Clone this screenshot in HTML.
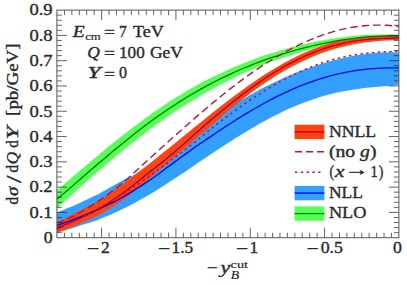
<!DOCTYPE html>
<html><head><meta charset="utf-8"><title>plot</title>
<style>html,body{margin:0;padding:0;background:#fff;}body{width:407px;height:285px;overflow:hidden;position:relative;}</style>
</head><body>
<svg width="407" height="285" viewBox="0 0 407 285" style="display:block;position:absolute;left:0;top:0" font-family="'Liberation Serif', serif" font-weight="normal">
<style>text{fill:#2b2b2b;stroke:#2b2b2b;stroke-width:0.38px;stroke-linejoin:round}text.s{stroke-width:0.2px}</style>
<rect x="0" y="0" width="407" height="285" fill="#ffffff"/>
<defs><clipPath id="c"><rect x="56.9" y="10.1" width="342.0" height="227.6"/></clipPath></defs>
<g clip-path="url(#c)">
<path d="M56.9,212.4 L62.7,210.2 L68.5,207.8 L74.3,205.4 L80.1,202.8 L85.9,200.1 L91.7,197.3 L97.5,194.4 L103.3,191.3 L109.1,188.1 L114.9,184.8 L120.7,181.5 L126.5,178.4 L132.3,175.8 L138.1,172.8 L143.8,168.9 L149.6,164.8 L155.4,160.5 L161.2,156.2 L167.0,151.7 L172.8,147.1 L178.6,142.4 L184.4,137.9 L190.2,133.6 L196.0,129.5 L201.8,125.5 L207.6,121.5 L213.4,117.6 L219.2,113.7 L225.0,110.0 L230.8,106.3 L236.6,102.7 L242.4,99.3 L248.2,95.9 L254.0,92.7 L259.8,89.6 L265.6,86.5 L271.4,83.7 L277.2,80.9 L283.0,78.3 L288.8,75.7 L294.6,73.3 L300.4,71.1 L306.2,68.9 L312.0,66.9 L317.7,65.0 L323.5,63.2 L329.3,61.5 L335.1,60.0 L340.9,58.6 L346.7,57.3 L352.5,56.1 L358.3,55.1 L364.1,54.2 L369.9,53.4 L375.7,52.9 L381.5,52.5 L387.3,52.2 L393.1,52.2 L398.9,52.4 L398.9,85.0 L393.1,85.5 L387.3,85.9 L381.5,86.4 L375.7,86.9 L369.9,87.5 L364.1,88.1 L358.3,88.9 L352.5,89.7 L346.7,90.7 L340.9,91.8 L335.1,93.1 L329.3,94.5 L323.5,96.0 L317.7,97.8 L312.0,99.7 L306.2,101.7 L300.4,103.9 L294.6,106.3 L288.8,108.8 L283.0,111.5 L277.2,114.4 L271.4,117.3 L265.6,120.4 L259.8,123.6 L254.0,127.0 L248.2,130.4 L242.4,133.9 L236.6,137.5 L230.8,141.2 L225.0,144.9 L219.2,148.7 L213.4,152.5 L207.6,156.4 L201.8,160.3 L196.0,164.3 L190.2,168.2 L184.4,172.2 L178.6,176.0 L172.8,179.8 L167.0,183.6 L161.2,187.3 L155.4,191.0 L149.6,194.5 L143.8,197.8 L138.1,201.1 L132.3,204.2 L126.5,207.2 L120.7,210.0 L114.9,212.7 L109.1,215.2 L103.3,217.6 L97.5,219.9 L91.7,221.9 L85.9,223.8 L80.1,225.6 L74.3,227.4 L68.5,229.2 L62.7,231.0 L56.9,232.7Z" fill="#33a0ff"/>
<path d="M56.9,190.3 L62.7,185.4 L68.5,180.4 L74.3,175.5 L80.1,170.6 L85.9,165.7 L91.7,160.8 L97.5,155.9 L103.3,151.1 L109.1,146.3 L114.9,141.6 L120.7,137.1 L126.5,132.5 L132.3,128.1 L138.1,123.7 L143.8,119.4 L149.6,115.2 L155.4,111.1 L161.2,107.2 L167.0,103.3 L172.8,99.6 L178.6,95.9 L184.4,92.4 L190.2,89.0 L196.0,85.8 L201.8,82.6 L207.6,79.6 L213.4,76.7 L219.2,73.9 L225.0,71.2 L230.8,68.6 L236.6,66.1 L242.4,63.7 L248.2,61.4 L254.0,59.2 L259.8,57.1 L265.6,55.1 L271.4,53.2 L277.2,51.4 L283.0,49.7 L288.8,48.1 L294.6,46.5 L300.4,45.1 L306.2,43.7 L312.0,42.5 L317.7,41.3 L323.5,40.2 L329.3,39.2 L335.1,38.3 L340.9,37.5 L346.7,36.7 L352.5,36.1 L358.3,35.6 L364.1,35.1 L369.9,34.8 L375.7,34.6 L381.5,34.4 L387.3,34.4 L393.1,34.5 L398.9,34.8 L398.9,38.0 L393.1,38.0 L387.3,38.1 L381.5,38.4 L375.7,38.7 L369.9,39.2 L364.1,39.7 L358.3,40.4 L352.5,41.1 L346.7,42.0 L340.9,42.9 L335.1,43.9 L329.3,45.1 L323.5,46.3 L317.7,47.6 L312.0,49.1 L306.2,50.6 L300.4,52.2 L294.6,53.9 L288.8,55.7 L283.0,57.7 L277.2,59.7 L271.4,61.8 L265.6,64.0 L259.8,66.3 L254.0,68.7 L248.2,71.2 L242.4,73.8 L236.6,76.5 L230.8,79.3 L225.0,82.2 L219.2,85.3 L213.4,88.4 L207.6,91.6 L201.8,95.0 L196.0,98.4 L190.2,101.9 L184.4,105.6 L178.6,109.3 L172.8,113.2 L167.0,117.1 L161.2,121.2 L155.4,125.3 L149.6,129.6 L143.8,133.9 L138.1,138.4 L132.3,142.9 L126.5,147.5 L120.7,152.3 L114.9,157.0 L109.1,161.9 L103.3,166.9 L97.5,171.9 L91.7,177.0 L85.9,182.1 L80.1,187.4 L74.3,192.6 L68.5,197.9 L62.7,203.3 L56.9,208.7Z" fill="#55ff55"/>
<path d="M56.9,222.3 L62.7,219.4 L68.5,216.4 L74.3,213.4 L80.1,210.4 L85.9,207.4 L91.7,204.6 L97.5,201.6 L103.3,197.9 L109.1,194.0 L114.9,189.9 L120.7,185.7 L126.5,181.4 L132.3,177.0 L138.1,172.4 L143.8,167.9 L149.6,163.4 L155.4,158.9 L161.2,154.3 L167.0,149.6 L172.8,145.0 L178.6,140.3 L184.4,135.6 L190.2,130.8 L196.0,126.1 L201.8,121.4 L207.6,116.8 L213.4,112.1 L219.2,107.5 L225.0,103.0 L230.8,98.6 L236.6,94.2 L242.4,89.9 L248.2,85.8 L254.0,81.7 L259.8,77.8 L265.6,74.0 L271.4,70.4 L277.2,66.9 L283.0,63.6 L288.8,60.4 L294.6,57.4 L300.4,54.6 L306.2,52.0 L312.0,49.6 L317.7,47.4 L323.5,45.3 L329.3,43.5 L335.1,41.8 L340.9,40.4 L346.7,39.5 L352.5,38.9 L358.3,38.1 L364.1,37.3 L369.9,36.7 L375.7,36.1 L381.5,35.7 L387.3,35.4 L393.1,35.2 L398.9,34.9 L398.9,40.1 L393.1,40.2 L387.3,40.5 L381.5,40.8 L375.7,41.3 L369.9,41.9 L364.1,42.6 L358.3,43.5 L352.5,44.5 L346.7,45.8 L340.9,47.2 L335.1,48.7 L329.3,50.5 L323.5,52.5 L317.7,54.6 L312.0,57.0 L306.2,59.5 L300.4,62.3 L294.6,65.2 L288.8,68.3 L283.0,71.6 L277.2,75.0 L271.4,78.7 L265.6,82.5 L259.8,86.4 L254.0,90.6 L248.2,94.9 L242.4,99.3 L236.6,103.9 L230.8,108.7 L225.0,113.6 L219.2,118.6 L213.4,123.7 L207.6,128.7 L201.8,133.6 L196.0,138.6 L190.2,143.5 L184.4,148.5 L178.6,153.5 L172.8,158.4 L167.0,163.4 L161.2,168.3 L155.4,173.3 L149.6,178.2 L143.8,183.2 L138.1,188.0 L132.3,192.7 L126.5,197.2 L120.7,201.5 L114.9,205.4 L109.1,209.0 L103.3,212.4 L97.5,215.6 L91.7,218.5 L85.9,221.1 L80.1,223.7 L74.3,226.2 L68.5,228.5 L62.7,230.7 L56.9,232.6Z" fill="#ff4210"/>
<path d="M56.9,199.2 L62.7,194.3 L68.5,189.4 L74.3,184.4 L80.1,179.3 L85.9,174.3 L91.7,169.3 L97.5,164.3 L103.3,159.4 L109.1,154.5 L114.9,149.6 L120.7,144.9 L126.5,140.2 L132.3,135.6 L138.1,131.1 L143.8,126.6 L149.6,122.3 L155.4,118.1 L161.2,114.0 L167.0,110.0 L172.8,106.2 L178.6,102.4 L184.4,98.8 L190.2,95.2 L196.0,91.8 L201.8,88.6 L207.6,85.4 L213.4,82.3 L219.2,79.4 L225.0,76.6 L230.8,73.9 L236.6,71.2 L242.4,68.7 L248.2,66.3 L254.0,64.0 L259.8,61.8 L265.6,59.7 L271.4,57.7 L277.2,55.8 L283.0,53.9 L288.8,52.2 L294.6,50.5 L300.4,48.9 L306.2,47.4 L312.0,46.0 L317.7,44.7 L323.5,43.4 L329.3,42.3 L335.1,41.2 L340.9,40.2 L346.7,39.3 L352.5,38.5 L358.3,37.8 L364.1,37.2 L369.9,36.7 L375.7,36.4 L381.5,36.1 L387.3,36.0 L393.1,36.1 L398.9,36.3" fill="none" stroke="#007800" stroke-width="1.25"/>
<path d="M151.7,169.5 L154.6,167.2 L157.5,164.9 L160.4,162.6 L163.2,160.3 L166.1,157.9 L169.0,155.6 L171.9,153.2 L174.7,150.8 L177.6,148.4 L180.5,146.0 L183.4,143.5 L186.2,140.9 L189.1,138.3 L192.0,135.7 L194.8,133.1 L197.7,130.5 L200.6,127.9 L203.5,125.3 L206.3,122.8 L209.2,120.3 L212.1,117.9 L215.0,115.5 L217.8,113.1 L220.7,110.7 L223.6,108.4 L226.5,106.1 L229.3,103.8 L232.2,101.5 L235.1,99.2 L238.0,97.0" fill="none" stroke="#4b8fe6" stroke-width="0.6"/>
<path d="M56.9,225.3 L62.7,223.4 L68.5,221.4 L74.3,219.2 L80.1,216.9 L85.9,214.5 L91.7,212.1 L97.5,209.6 L103.3,206.9 L109.1,204.2 L114.9,201.4 L120.7,198.3 L126.5,194.9 L132.3,191.4 L138.1,187.8 L143.8,184.1 L149.6,180.3 L155.4,176.2 L161.2,171.9 L167.0,167.6 L172.8,163.4 L178.6,159.1 L184.4,154.9 L190.2,150.7 L196.0,146.5 L201.8,142.5 L207.6,138.6 L213.4,134.7 L219.2,130.8 L225.0,127.0 L230.8,123.2 L236.6,119.5 L242.4,115.9 L248.2,112.4 L254.0,109.0 L259.8,105.7 L265.6,102.5 L271.4,99.4 L277.2,96.4 L283.0,93.6 L288.8,90.9 L294.6,88.3 L300.4,85.9 L306.2,83.7 L312.0,81.6 L317.7,79.6 L323.5,77.8 L329.3,76.1 L335.1,74.6 L340.9,73.3 L346.7,72.1 L352.5,71.1 L358.3,70.2 L364.1,69.5 L369.9,68.9 L375.7,68.4 L381.5,68.1 L387.3,67.9 L393.1,67.8 L398.9,67.9" fill="none" stroke="#0000ee" stroke-width="1.3"/>
<path d="M56.9,227.9 L62.7,225.7 L68.5,223.3 L74.3,220.7 L80.1,218.1 L85.9,215.5 L91.7,212.7 L97.5,209.7 L103.3,206.2 L109.1,202.5 L114.9,198.6 L120.7,194.6 L126.5,190.4 L132.3,185.9 L138.1,181.3 L143.8,176.7 L149.6,172.1 L155.4,167.5 L161.2,162.9 L167.0,158.2 L172.8,153.4 L178.6,148.5 L184.4,143.5 L190.2,138.3 L196.0,133.0 L201.8,127.8 L207.6,122.7 L213.4,117.8 L219.2,113.0 L225.0,108.3 L230.8,103.6 L236.6,99.0 L242.4,94.6 L248.2,90.3 L254.0,86.1 L259.8,82.0 L265.6,78.1 L271.4,74.3 L277.2,70.7 L283.0,67.3 L288.8,64.1 L294.6,61.1 L300.4,58.2 L306.2,55.5 L312.0,53.1 L317.7,50.8 L323.5,48.8 L329.3,46.9 L335.1,45.3 L340.9,43.8 L346.7,42.5 L352.5,41.4 L358.3,40.5 L364.1,39.8 L369.9,39.2 L375.7,38.8 L381.5,38.5 L387.3,38.3 L393.1,38.2 L398.9,38.2" fill="none" stroke="#a8002a" stroke-width="1.25"/>
<path d="M56.9,223.2 L62.7,221.0 L68.5,218.4 L74.3,215.6 L80.1,212.5 L85.9,209.1 L91.7,205.6 L97.5,201.8 L103.3,197.8 L109.1,193.5 L114.9,189.1 L120.7,184.4 L126.5,179.5 L132.3,174.4 L138.1,169.1 L143.8,163.8 L149.6,158.6 L155.4,153.3 L161.2,148.1 L167.0,142.8 L172.8,137.6 L178.6,132.4 L184.4,127.3 L190.2,122.2 L196.0,117.1 L201.8,112.2 L207.6,107.2 L213.4,102.4 L219.2,97.6 L225.0,93.0 L230.8,88.4 L236.6,84.0 L242.4,79.6 L248.2,75.4 L254.0,71.4 L259.8,67.4 L265.6,63.6 L271.4,60.0 L277.2,56.5 L283.0,53.2 L288.8,50.0 L294.6,47.0 L300.4,44.2 L306.2,41.5 L312.0,39.1 L317.7,36.8 L323.5,34.7 L329.3,32.8 L335.1,31.1 L340.9,29.6 L346.7,28.3 L352.5,27.3 L358.3,26.4 L364.1,25.7 L369.9,25.3 L375.7,25.1 L381.5,25.1 L387.3,25.3 L393.1,25.8 L398.9,26.5" fill="none" stroke="#c0103c" stroke-width="1.4" stroke-dasharray="7.5 4"/>
<path d="M56.9,229.2 L62.7,226.5 L68.5,223.8 L74.3,220.9 L80.1,218.1 L85.9,215.1 L91.7,212.0 L97.5,208.8 L103.3,205.6 L109.1,202.2 L114.9,198.8 L120.7,195.2 L126.5,191.6 L132.3,187.9 L138.1,184.0 L143.8,180.1 L149.6,176.1 L155.4,171.9 L161.2,167.7 L167.0,163.4 L172.8,159.0 L178.6,154.6 L184.4,150.2 L190.2,145.7 L196.0,141.2 L201.8,136.5 L207.6,131.7 L213.4,127.0 L219.2,122.5 L225.0,118.1 L230.8,113.8 L236.6,109.5 L242.4,105.4 L248.2,101.4 L254.0,97.5 L259.8,93.8 L265.6,90.1 L271.4,86.6 L277.2,83.3 L283.0,80.1 L288.8,77.0 L294.6,74.2 L300.4,71.5 L306.2,68.9 L312.0,66.6 L317.7,64.4 L323.5,62.4 L329.3,60.6 L335.1,59.0 L340.9,57.6 L346.7,56.3 L352.5,55.2 L358.3,54.3 L364.1,53.5 L369.9,52.9 L375.7,52.4 L381.5,52.0 L387.3,51.7 L393.1,51.5 L398.9,51.4" fill="none" stroke="#c0103c" stroke-width="1.5" stroke-dasharray="2.3 3.5"/>
</g>
<path d="M56.9,232.64h5M398.9,232.64h-5M56.9,227.58h5M398.9,227.58h-5M56.9,222.53h5M398.9,222.53h-5M56.9,217.47h5M398.9,217.47h-5M56.9,212.41h10M398.9,212.41h-10M56.9,207.35h5M398.9,207.35h-5M56.9,202.30h5M398.9,202.30h-5M56.9,197.24h5M398.9,197.24h-5M56.9,192.18h5M398.9,192.18h-5M56.9,187.12h10M398.9,187.12h-10M56.9,182.06h5M398.9,182.06h-5M56.9,177.01h5M398.9,177.01h-5M56.9,171.95h5M398.9,171.95h-5M56.9,166.89h5M398.9,166.89h-5M56.9,161.83h10M398.9,161.83h-10M56.9,156.78h5M398.9,156.78h-5M56.9,151.72h5M398.9,151.72h-5M56.9,146.66h5M398.9,146.66h-5M56.9,141.60h5M398.9,141.60h-5M56.9,136.54h10M398.9,136.54h-10M56.9,131.49h5M398.9,131.49h-5M56.9,126.43h5M398.9,126.43h-5M56.9,121.37h5M398.9,121.37h-5M56.9,116.31h5M398.9,116.31h-5M56.9,111.26h10M398.9,111.26h-10M56.9,106.20h5M398.9,106.20h-5M56.9,101.14h5M398.9,101.14h-5M56.9,96.08h5M398.9,96.08h-5M56.9,91.02h5M398.9,91.02h-5M56.9,85.97h10M398.9,85.97h-10M56.9,80.91h5M398.9,80.91h-5M56.9,75.85h5M398.9,75.85h-5M56.9,70.79h5M398.9,70.79h-5M56.9,65.74h5M398.9,65.74h-5M56.9,60.68h10M398.9,60.68h-10M56.9,55.62h5M398.9,55.62h-5M56.9,50.56h5M398.9,50.56h-5M56.9,45.50h5M398.9,45.50h-5M56.9,40.45h5M398.9,40.45h-5M56.9,35.39h10M398.9,35.39h-10M56.9,30.33h5M398.9,30.33h-5M56.9,25.27h5M398.9,25.27h-5M56.9,20.22h5M398.9,20.22h-5M56.9,15.16h5M398.9,15.16h-5M391.47,237.7v-5M391.47,10.1v5M384.03,237.7v-5M384.03,10.1v5M376.60,237.7v-5M376.60,10.1v5M369.17,237.7v-5M369.17,10.1v5M361.74,237.7v-5M361.74,10.1v5M354.30,237.7v-5M354.30,10.1v5M346.87,237.7v-5M346.87,10.1v5M339.44,237.7v-5M339.44,10.1v5M332.01,237.7v-5M332.01,10.1v5M324.57,237.7v-10M324.57,10.1v10M317.14,237.7v-5M317.14,10.1v5M309.71,237.7v-5M309.71,10.1v5M302.28,237.7v-5M302.28,10.1v5M294.84,237.7v-5M294.84,10.1v5M287.41,237.7v-5M287.41,10.1v5M279.98,237.7v-5M279.98,10.1v5M272.55,237.7v-5M272.55,10.1v5M265.12,237.7v-5M265.12,10.1v5M257.68,237.7v-5M257.68,10.1v5M250.25,237.7v-10M250.25,10.1v10M242.82,237.7v-5M242.82,10.1v5M235.38,237.7v-5M235.38,10.1v5M227.95,237.7v-5M227.95,10.1v5M220.52,237.7v-5M220.52,10.1v5M213.09,237.7v-5M213.09,10.1v5M205.65,237.7v-5M205.65,10.1v5M198.22,237.7v-5M198.22,10.1v5M190.79,237.7v-5M190.79,10.1v5M183.36,237.7v-5M183.36,10.1v5M175.92,237.7v-10M175.92,10.1v10M168.49,237.7v-5M168.49,10.1v5M161.06,237.7v-5M161.06,10.1v5M153.63,237.7v-5M153.63,10.1v5M146.19,237.7v-5M146.19,10.1v5M138.76,237.7v-5M138.76,10.1v5M131.33,237.7v-5M131.33,10.1v5M123.90,237.7v-5M123.90,10.1v5M116.46,237.7v-5M116.46,10.1v5M109.03,237.7v-5M109.03,10.1v5M101.60,237.7v-10M101.60,10.1v10M94.17,237.7v-5M94.17,10.1v5M86.73,237.7v-5M86.73,10.1v5M79.30,237.7v-5M79.30,10.1v5M71.87,237.7v-5M71.87,10.1v5M64.44,237.7v-5M64.44,10.1v5" fill="none" stroke="#222" stroke-width="0.7"/>
<rect x="56.9" y="10.1" width="342.0" height="227.6" fill="none" stroke="#555" stroke-width="1"/>
<text x="43.7" y="243.0" font-size="16.5" textLength="8.9" lengthAdjust="spacingAndGlyphs">0</text>
<text x="29.4" y="217.7" font-size="16.5" textLength="23.2" lengthAdjust="spacingAndGlyphs">0.1</text>
<text x="29.4" y="192.4" font-size="16.5" textLength="23.2" lengthAdjust="spacingAndGlyphs">0.2</text>
<text x="29.4" y="167.1" font-size="16.5" textLength="23.2" lengthAdjust="spacingAndGlyphs">0.3</text>
<text x="29.4" y="141.8" font-size="16.5" textLength="23.2" lengthAdjust="spacingAndGlyphs">0.4</text>
<text x="29.4" y="116.6" font-size="16.5" textLength="23.2" lengthAdjust="spacingAndGlyphs">0.5</text>
<text x="29.4" y="91.3" font-size="16.5" textLength="23.2" lengthAdjust="spacingAndGlyphs">0.6</text>
<text x="29.4" y="66.0" font-size="16.5" textLength="23.2" lengthAdjust="spacingAndGlyphs">0.7</text>
<text x="29.4" y="40.7" font-size="16.5" textLength="23.2" lengthAdjust="spacingAndGlyphs">0.8</text>
<text x="29.4" y="15.4" font-size="16.5" textLength="23.2" lengthAdjust="spacingAndGlyphs">0.9</text>
<text x="86.9" y="254.2" font-size="16.5" textLength="12.0" lengthAdjust="spacingAndGlyphs">−</text>
<text x="158.0" y="254.2" font-size="16.5" textLength="12.0" lengthAdjust="spacingAndGlyphs">−</text>
<text x="235.9" y="254.2" font-size="16.5" textLength="12.0" lengthAdjust="spacingAndGlyphs">−</text>
<text x="306.5" y="254.2" font-size="16.5" textLength="12.0" lengthAdjust="spacingAndGlyphs">−</text>
<text x="100.9" y="253.0" font-size="16.5" textLength="8.7" lengthAdjust="spacingAndGlyphs">2</text>
<text x="171.6" y="253.0" font-size="16.5" textLength="21.6" lengthAdjust="spacingAndGlyphs">1.5</text>
<text x="249.6" y="253.0" font-size="16.5" textLength="8.7" lengthAdjust="spacingAndGlyphs">1</text>
<text x="320.7" y="253.0" font-size="16.5" textLength="22.2" lengthAdjust="spacingAndGlyphs">0.5</text>
<text x="393.1" y="253.0" font-size="16.5" textLength="8.9" lengthAdjust="spacingAndGlyphs">0</text>
<text x="207" y="273.1" font-size="16" textLength="10.6" lengthAdjust="spacingAndGlyphs">−</text>
<text x="220.6" y="273.1" font-size="17" font-style="italic" textLength="9.8" lengthAdjust="spacingAndGlyphs">y</text>
<text x="230.6" y="268.3" font-size="10.5" class="s" textLength="17.4" lengthAdjust="spacingAndGlyphs">cut</text>
<text x="230.8" y="278.6" font-size="11.5" font-style="italic" class="s" textLength="8.4" lengthAdjust="spacingAndGlyphs">B</text>
<g transform="translate(18.0,204.5) rotate(-90)" font-size="16">
<text x="0" y="0" textLength="7.6" lengthAdjust="spacingAndGlyphs">d</text>
<text x="8.4" y="0" font-style="italic" textLength="9.4" lengthAdjust="spacingAndGlyphs">σ</text>
<text x="21.6" y="2.6" font-size="21" textLength="7.6" lengthAdjust="spacingAndGlyphs">/</text>
<text x="31.9" y="0" textLength="7.6" lengthAdjust="spacingAndGlyphs">d</text>
<text x="40.2" y="0" font-style="italic" textLength="12.4" lengthAdjust="spacingAndGlyphs">Q</text>
<text x="56.7" y="0" textLength="7.6" lengthAdjust="spacingAndGlyphs">d</text>
<text x="65.0" y="0" font-style="italic" textLength="13.4" lengthAdjust="spacingAndGlyphs">Y</text>
<text x="88.6" y="0" textLength="72.4" lengthAdjust="spacingAndGlyphs">[pb/GeV]</text>
</g>
<text x="72.8" y="36.7" font-size="16" textLength="12" lengthAdjust="spacingAndGlyphs" font-style="italic">E</text>
<text x="85.2" y="39.6" font-size="11" class="s" textLength="15.6" lengthAdjust="spacingAndGlyphs">cm</text>
<text x="104" y="38.0" font-size="16" textLength="11" lengthAdjust="spacingAndGlyphs">=</text>
<text x="119" y="36.7" font-size="16" textLength="7.8" lengthAdjust="spacingAndGlyphs">7</text>
<text x="133" y="36.7" font-size="16" textLength="30.8" lengthAdjust="spacingAndGlyphs">TeV</text>
<text x="87.2" y="57.5" font-size="16" textLength="12.6" lengthAdjust="spacingAndGlyphs" font-style="italic">Q</text>
<text x="104" y="58.8" font-size="16" textLength="11" lengthAdjust="spacingAndGlyphs">=</text>
<text x="119" y="57.5" font-size="16" textLength="25.7" lengthAdjust="spacingAndGlyphs">100</text>
<text x="150" y="57.5" font-size="16" textLength="33" lengthAdjust="spacingAndGlyphs">GeV</text>
<text x="87.2" y="78.3" font-size="16" textLength="13.5" lengthAdjust="spacingAndGlyphs" font-style="italic">Y</text>
<text x="104" y="79.6" font-size="16" textLength="11" lengthAdjust="spacingAndGlyphs">=</text>
<text x="119" y="78.3" font-size="16" textLength="8" lengthAdjust="spacingAndGlyphs">0</text>
<rect x="294.6" y="124.7" width="29.799999999999955" height="14.4" fill="#ff4210"/>
<path d="M294.6,131.9H324.4" stroke="#a8002a" stroke-width="1.25"/>
<path d="M295.0,151.70000000000002H324.4" stroke="#c0103c" stroke-width="1.4" stroke-dasharray="7.2 3.8"/>
<path d="M295.0,172.29999999999998H323.4" stroke="#c0103c" stroke-width="1.5" stroke-dasharray="2.3 3.5"/>
<rect x="294.6" y="185.9" width="29.799999999999955" height="14.4" fill="#33a0ff"/>
<path d="M294.6,193.1H324.4" stroke="#0000ee" stroke-width="1.3"/>
<rect x="294.6" y="206.4" width="29.799999999999955" height="14.4" fill="#55ff55"/>
<path d="M294.6,213.6H324.4" stroke="#007800" stroke-width="1.25"/>
<text x="328.9" y="136.6" font-size="16" textLength="47.3" lengthAdjust="spacingAndGlyphs">NNLL</text>
<text x="328.9" y="156.9" font-size="16" textLength="47.6" lengthAdjust="spacingAndGlyphs">(no <tspan font-style="italic">g</tspan>)</text>
<text x="329.4" y="176.6" font-size="16" textLength="4.6" lengthAdjust="spacingAndGlyphs">(</text>
<text x="335.0" y="176.6" font-size="16" textLength="9.4" lengthAdjust="spacingAndGlyphs" font-style="italic">x</text>
<text x="344.8" y="174.9" font-size="16" textLength="24.6" lengthAdjust="spacingAndGlyphs">→</text>
<text x="370.6" y="176.6" font-size="16" textLength="7.2" lengthAdjust="spacingAndGlyphs">1</text>
<text x="378.8" y="176.6" font-size="16" textLength="4.6" lengthAdjust="spacingAndGlyphs">)</text>
<text x="328.9" y="198" font-size="16" textLength="34" lengthAdjust="spacingAndGlyphs">NLL</text>
<text x="328.9" y="217.7" font-size="16" textLength="37.5" lengthAdjust="spacingAndGlyphs">NLO</text>
</svg>
</body></html>
